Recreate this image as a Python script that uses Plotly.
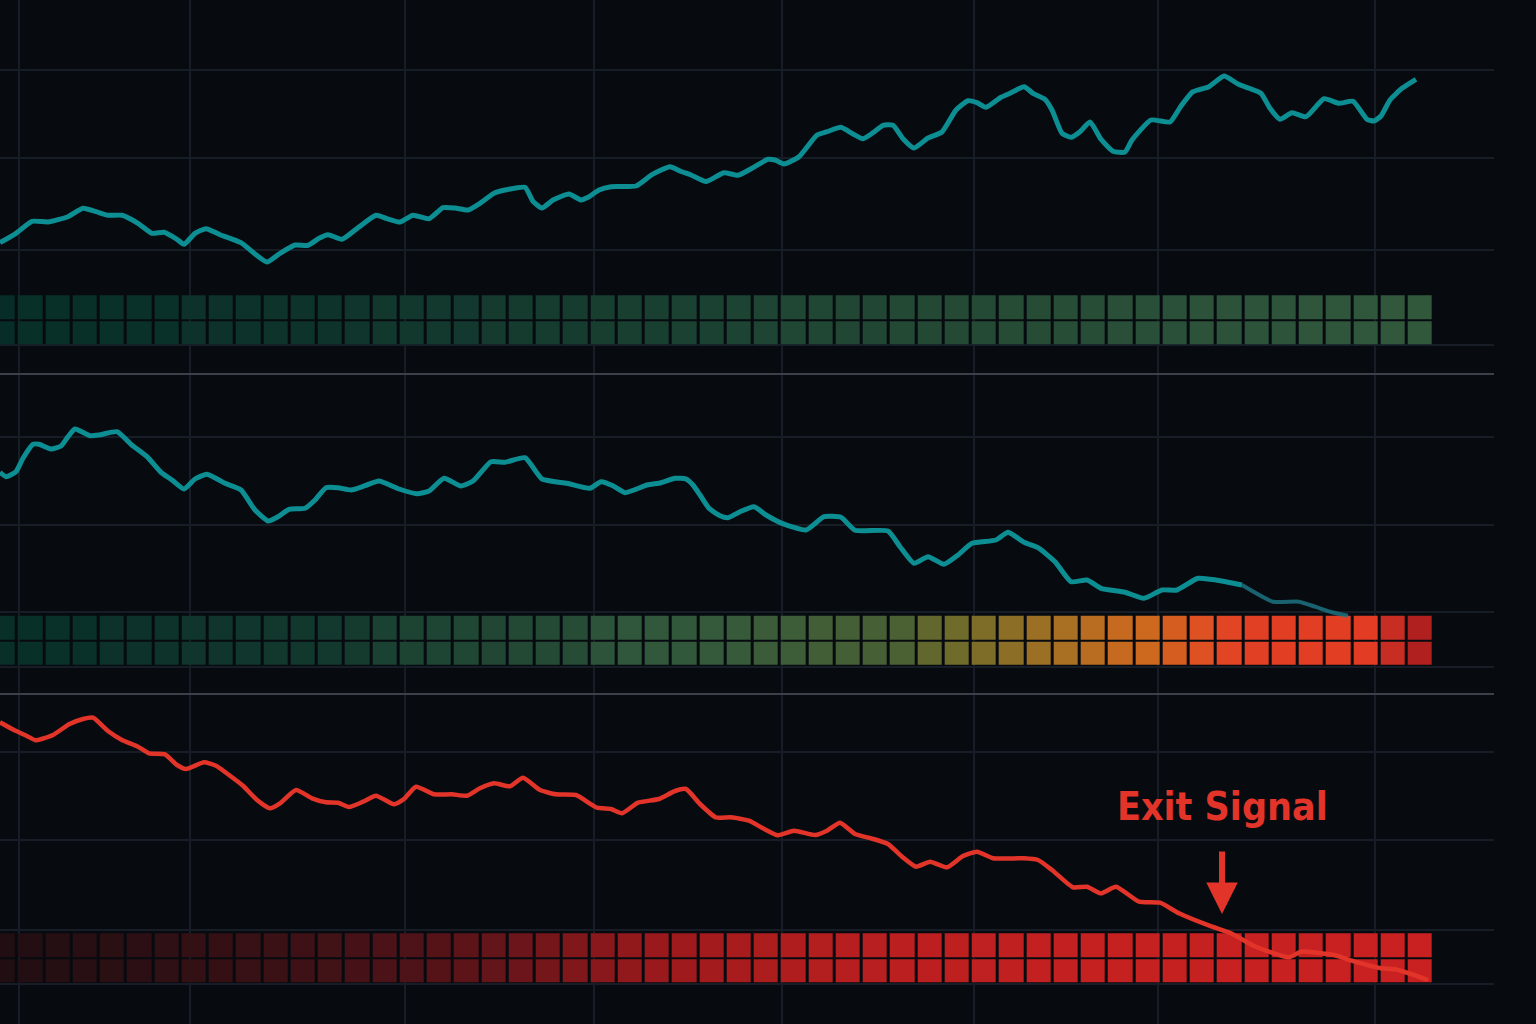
import plotly.graph_objects as go

# ---------------- data ----------------
# Panel 1 (trend up) : time, value
T1 = [0, 16, 32, 48, 68, 83, 96, 108, 122, 138, 152, 164, 177, 184, 195, 206, 220, 241, 255, 267,
      280, 295, 308, 319, 328, 342, 358, 376, 386, 400, 413, 429, 443, 455, 468, 480, 494, 505, 525, 533,
      542, 553, 569, 581, 588, 599, 611, 636, 652, 670, 680, 691, 706, 724, 738, 752, 768, 775, 784, 799,
      817, 827, 841, 853, 863, 873, 883, 893, 903, 914, 928, 942, 956, 968, 977, 986, 1001, 1010, 1024, 1033,
      1045, 1052, 1062, 1071, 1080, 1090, 1101, 1113, 1125, 1132, 1151, 1170, 1181, 1193, 1209, 1224, 1238, 1249, 1261, 1270,
      1280, 1292, 1306, 1324, 1339, 1353, 1367, 1374, 1381, 1390, 1402, 1416]
V1 = [131.3, 140.7, 152.7, 152, 157.3, 165.7, 162.3, 158.7, 158.7, 150.7, 140.7, 141.7, 134.7, 129.7, 140.7, 145.3, 139.3, 131.3, 120, 112,
      120.7, 129, 128.7, 135.7, 139.3, 134.7, 146.3, 158.7, 155.7, 152, 158.7, 155.3, 166.3, 166, 164, 170.7, 180.7, 184, 186.7, 172.7,
      166, 174, 180, 174, 176.7, 184, 187.3, 188, 199.3, 207.3, 203, 199, 192.5, 201.3, 198.7, 205.7, 214.7, 214, 210, 217.3,
      239, 242.3, 246.7, 240, 235.3, 241.3, 248.7, 248.7, 235.3, 226, 236, 242, 264, 273.3, 271.3, 266.7, 276.7, 280.7, 287.3, 280.7,
      274.7, 264, 240.7, 236.7, 242.3, 252, 234.7, 222.7, 222, 234, 254, 252, 268, 282.3, 287.3, 298, 290, 285.7, 280.7, 265.7,
      254.7, 261.3, 257.3, 275.3, 270.7, 272.7, 254.7, 253, 258, 274, 285.7, 294.7]

# Panel 2 (rolling over)
T2 = [0, 6, 16, 23, 33, 39, 51, 61, 68, 75, 90, 99, 117, 131, 147, 161, 172, 184, 195, 207,
      225, 241, 255, 268, 278, 289, 305, 315, 326, 338, 351, 365, 379, 399, 417, 429, 444, 461, 473, 491,
      505, 525, 542, 567, 590, 601, 613, 625, 647, 661, 675, 686, 693, 700, 709, 720, 728, 740, 754, 766,
      782, 806, 824, 841, 855, 888, 900, 914, 928, 944, 958, 972, 996, 1008, 1024, 1038, 1055, 1071, 1087, 1101,
      1125, 1144, 1162, 1177, 1198, 1216, 1242, 1273, 1299, 1315, 1332, 1348]
V2 = [221.7, 217.3, 222.3, 235.7, 249.7, 249.7, 245, 248, 257.3, 265, 258.3, 259, 262.3, 249.7, 237.3, 221.7, 214, 205, 215, 219.7,
      210.7, 204, 184, 173, 177.3, 184.7, 185.7, 194, 206.3, 206.3, 204, 208.3, 213, 205, 200.3, 203, 215.7, 208, 213, 232.3,
      231.7, 236.3, 215, 210.7, 205.7, 212.3, 208.3, 201.3, 209, 211.3, 215.7, 215, 209, 199, 185.7, 178.3, 176.3, 182.3, 187.3, 179,
      170.7, 164, 177.3, 176.7, 163.7, 163, 147.3, 130.7, 137.3, 129.7, 139, 150.7, 154, 161.7, 151.7, 146.3, 132.3, 112.3, 114, 105.7,
      101.7, 95.7, 104, 104, 115.7, 114, 109, 92.3, 92.3, 87.3, 81.7, 78.3]

# Panel 3 (breakdown)
T3 = [0, 14, 25, 36, 53, 69, 83, 93, 108, 122, 138, 149, 165, 177, 186, 204, 216, 230, 243, 257,
      270, 280, 296, 312, 326, 338, 349, 363, 376, 394, 404, 416, 434, 452, 467, 480, 494, 510, 523, 540,
      556, 576, 597, 611, 622, 638, 659, 675, 686, 700, 716, 731, 749, 763, 778, 794, 815, 827, 840, 855,
      871, 888, 902, 916, 930, 947, 963, 977, 993, 1024, 1038, 1052, 1073, 1087, 1101, 1116, 1139, 1160, 1179, 1212,
      1231, 1254, 1289, 1301, 1334, 1355, 1381, 1395, 1414, 1428]
V3 = [301.7, 294, 289, 283.7, 289, 299.7, 305, 306.3, 293, 284, 277.3, 270.7, 269.7, 259, 255, 261.7, 258.3, 248.3, 238.3, 224,
      215.7, 220.7, 234, 225.7, 221.7, 221.3, 217, 222.3, 228.3, 219.7, 225, 237.3, 229.7, 229.7, 228.3, 235.7, 240.7, 237.7, 246.3, 234,
      229.7, 229, 216.3, 215, 210.7, 221.3, 225, 233, 235, 220, 206.5, 206.7, 203.3, 195.7, 188.7, 193.3, 189, 193.3, 201.3, 190,
      185.7, 180, 167.3, 157.3, 162.3, 156.7, 168, 172.3, 165.7, 165.7, 164, 154, 136.7, 137.3, 130.7, 137.3, 122.3, 121.3, 110.7, 97.3,
      90.7, 78, 66.7, 72.3, 69, 62.3, 55.7, 54.7, 49, 44]

# Heat-strip scores, one per cell (53 cells)
S1 = [0.02, 0.03, 0.03, 0.03, 0.04, 0.04, 0.04, 0.05, 0.05, 0.05, 0.06, 0.06, 0.06, 0.07,
      0.09, 0.09, 0.10, 0.10, 0.11, 0.11, 0.12, 0.12, 0.13,
      0.14, 0.14, 0.15, 0.15, 0.16, 0.17,
      0.18, 0.18, 0.19, 0.19, 0.20, 0.20, 0.21, 0.21,
      0.22, 0.22, 0.23, 0.23, 0.24, 0.24,
      0.25, 0.26, 0.26, 0.27, 0.27, 0.28, 0.28, 0.29, 0.30, 0.30]
S2 = [0.03, 0.03, 0.04, 0.04, 0.05, 0.05, 0.06, 0.07, 0.07, 0.08, 0.09, 0.09, 0.10, 0.11,
      0.15, 0.16, 0.17, 0.18, 0.19, 0.20, 0.21, 0.22, 0.27,
      0.29, 0.30, 0.30, 0.31, 0.32, 0.34, 0.35, 0.37, 0.38, 0.39, 0.41,
      0.46, 0.49, 0.52, 0.55, 0.58, 0.61, 0.65, 0.68, 0.70, 0.74,
      0.78, 0.83, 0.86, 0.87, 0.87, 0.87, 0.88, 0.94, 1.00]
S3 = [0.02, 0.03, 0.05, 0.06, 0.07, 0.08, 0.10, 0.12, 0.13, 0.15, 0.17, 0.19, 0.21, 0.24,
      0.27, 0.29, 0.32, 0.35, 0.38, 0.42, 0.46, 0.50, 0.54, 0.58, 0.62, 0.66, 0.70, 0.73,
      0.76, 0.79, 0.81, 0.83, 0.85, 0.87, 0.88, 0.89, 0.90, 0.91, 0.92, 0.93,
      0.94, 0.94, 0.95, 0.95, 0.95, 0.96, 0.96, 0.96, 0.96, 0.97, 0.97, 0.97, 0.97]

EXIT_T = 1222          # time of the exit signal
EXIT_LABEL = "Exit Signal"
TAIL_FROM = 1242       # panel-2 line fades after this time

# ---------------- styling / layout ----------------
W, H = 1536, 1024
BG = "#070b10"
GRID = "#161d26"
SEP = "#3d4048"
TEAL = "#0c8e93"
TEAL_FADE = "rgba(30,120,135,0.8)"
RED = "#e3342a"

PLOT_R = 1494                          # right edge of plot area (px)
P1, P2 = 374, 694                      # separators (px from top)
CELL0, CELL_W = 3.25, 27.25            # cell centre layout along time axis
cell_x = [CELL0 + CELL_W * i for i in range(len(S1))]

SIGNAL_SCALE = [
    [0.00, "rgb(4,42,39)"], [0.30, "rgb(50,88,60)"], [0.40, "rgb(72,96,52)"],
    [0.50, "rgb(115,108,42)"], [0.60, "rgb(165,112,35)"], [0.70, "rgb(205,105,30)"],
    [0.80, "rgb(225,75,35)"], [0.88, "rgb(226,60,36)"], [0.94, "rgb(200,45,35)"],
    [1.00, "rgb(175,32,30)"]]
RED_SCALE = [[0, "rgb(30,14,18)"], [0.3, "rgb(80,19,24)"], [0.6, "rgb(150,25,28)"],
             [1, "rgb(205,34,34)"]]

fig = go.Figure()


def strip(scores, rows, scale, yaxis):
    fig.add_trace(go.Heatmap(
        x=cell_x, y=rows, z=[scores, scores], colorscale=scale, zmin=0, zmax=1,
        showscale=False, xgap=3, ygap=2, xaxis="x", yaxis=yaxis, hoverinfo="skip"))


def line(t, v, color, yaxis, width=5):
    fig.add_trace(go.Scatter(
        x=t, y=v, mode="lines", line=dict(color=color, width=width, shape="spline", smoothing=0.5),
        xaxis="x", yaxis=yaxis, hoverinfo="skip", showlegend=False))


# panel 1
strip(S1, [41.5, 67], SIGNAL_SCALE, "y")
line(T1, V1, TEAL, "y")
# panel 2
strip(S2, [41, 66.5], SIGNAL_SCALE, "y2")
k = next(i for i, t in enumerate(T2) if t >= TAIL_FROM)
line(T2[:k + 1], V2[:k + 1], TEAL, "y2")
line(T2[k:], V2[k:], TEAL_FADE, "y2", width=4)
# panel 3
strip(S3, [53.5, 79], RED_SCALE, "y3")
line(T3, V3, RED, "y3", width=4.5)

grid = dict(showgrid=True, gridcolor=GRID, gridwidth=1.5, zeroline=False,
            showticklabels=False, ticks="", showline=False, fixedrange=True)
xdom = [0, PLOT_R / W]
fig.update_layout(
    width=W, height=H, margin=dict(l=0, r=0, t=0, b=0, pad=0),
    paper_bgcolor=BG, plot_bgcolor=BG, showlegend=False,
    xaxis=dict(domain=xdom, range=[0, PLOT_R], anchor="y3",
               tickmode="array", tickvals=[19, 190, 405, 594, 782, 974, 1158, 1375], **grid),
    yaxis=dict(domain=[1 - P1 / H, 1], range=[0, P1], anchor="x",
               tickmode="array", tickvals=[304, 216, 124, 29], **grid),
    yaxis2=dict(domain=[1 - P2 / H, 1 - P1 / H], range=[0, P2 - P1], anchor="x",
                tickmode="array", tickvals=[257, 169, 82, 27], **grid),
    yaxis3=dict(domain=[0, 1 - P2 / H], range=[0, H - P2], anchor="x",
                tickmode="array", tickvals=[272, 184, 94, 40], **grid),
)

# panel separators
for ax in ["y2", "y3"]:
    fig.add_shape(type="line", xref="x domain", yref=f"{ax} domain", x0=0, x1=1, y0=1, y1=1,
                  line=dict(color=SEP, width=2), layer="above")

# exit signal annotation
fig.add_annotation(x=EXIT_T, y=110, xref="x", yref="y3", text="", showarrow=True,
                   ax=0, ay=-64, axref="pixel", ayref="pixel",
                   arrowhead=2, arrowsize=1.05, arrowwidth=6, arrowcolor=RED, standoff=0)
fig.add_annotation(x=EXIT_T, y=218, xref="x", yref="y3", text=EXIT_LABEL, showarrow=False,
                   xanchor="center", yanchor="middle",
                   font=dict(family="Liberation Sans Narrow, DejaVu Sans Condensed, Roboto Condensed, Roboto, sans-serif",
                             size=39, color=RED, weight="bold"))

fig.write_html(
    "out.html",
    config={"displayModeBar": False},
    post_script="document.body.style.margin='0';document.body.style.background='#070b10';",
)
